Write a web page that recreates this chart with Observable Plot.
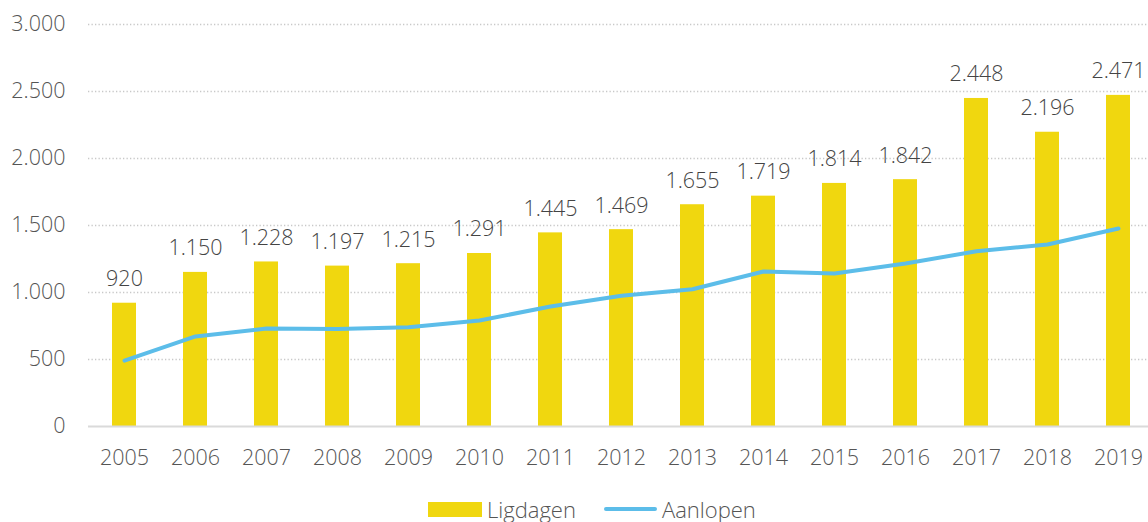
<!DOCTYPE html>
<html>
<head>
<meta charset="utf-8">
<script src="https://cdn.jsdelivr.net/npm/d3@7"></script>
<script src="https://cdn.jsdelivr.net/npm/@observablehq/plot@0.6"></script>
<style>
  html, body { margin: 0; padding: 0; background: #fff; }
  body { width: 1148px; height: 522px; overflow: hidden; position: relative; font-family: "Open Sans", sans-serif; font-weight: 300; }
  #chart svg { overflow: hidden; }
  .legend { position: absolute; left: 428px; top: 497px; height: 24px; line-height: 24px; display: flex; align-items: center; font-size: 22px; color: #555; font-weight: 300; }
  .legend .sw-bar { width: 54px; height: 15px; background: #f0d70f; margin-right: 5px; }
  .legend .sw-line { width: 53px; height: 4px; border-radius: 2px; background: #5cbde9; margin-right: 5px; margin-left: 28px; }
</style>
</head>
<body>
<div id="chart"></div>
<div class="legend">
  <span class="sw-bar"></span><span>Ligdagen</span>
  <span class="sw-line"></span><span>Aanlopen</span>
</div>
<script>
const years = ["2005","2006","2007","2008","2009","2010","2011","2012","2013","2014","2015","2016","2017","2018","2019"];
const ligdagen = [920,1150,1228,1197,1215,1291,1445,1469,1655,1719,1814,1842,2448,2196,2471];
const aanlopen = [492,672,731,727,741,791,896,976,1024,1157,1142,1216,1308,1358,1478];
const yTicks = [0,500,1000,1500,2000,2500,3000];

const nl = d3.formatLocale({decimal: ",", thousands: ".", grouping: [3], currency: ["", "€"]});
const fmt = nl.format(",");

const bars = years.map((y, i) => ({year: y, value: ligdagen[i]}));
const line = years.map((y, i) => ({year: y, value: aanlopen[i]}));

const FS = 21.5;
const chart = Plot.plot({
  width: 1148,
  height: 480,
  marginLeft: 88,
  marginRight: 0,
  marginTop: 24,
  marginBottom: 54,
  style: {fontFamily: "'Open Sans', sans-serif", fontSize: FS + "px", fontWeight: 300, color: "#555", background: "#fff"},
  x: {domain: years, range: [88, 1155], paddingInner: 0.66, paddingOuter: 0.336, label: null},
  y: {domain: [0, 3000], label: null},
  marks: [
    Plot.ruleY(yTicks.filter(d => d > 0), {stroke: "#c8c8c8", strokeWidth: 1.3, strokeDasharray: "1.3,2.2"}),
    Plot.barY(bars, {x: "year", y: "value", fill: "#f0d70f"}),
    Plot.ruleY([0], {stroke: "#dadada", strokeWidth: 2}),
    Plot.line(line, {x: "year", y: "value", stroke: "#5cbde9", strokeWidth: 4, strokeLinejoin: "round"}),
    Plot.text(bars, {x: "year", y: "value", text: d => fmt(d.value), dy: -24, fill: "#444", fontSize: FS}),
    Plot.axisY(yTicks, {tickSize: 0, tickPadding: 23, tickFormat: fmt, fill: "#555", fontSize: FS}),
    Plot.axisX({tickSize: 0, tickPadding: 23, fill: "#555", fontSize: FS})
  ]
});
document.getElementById("chart").appendChild(chart);
</script>
</body>
</html>
